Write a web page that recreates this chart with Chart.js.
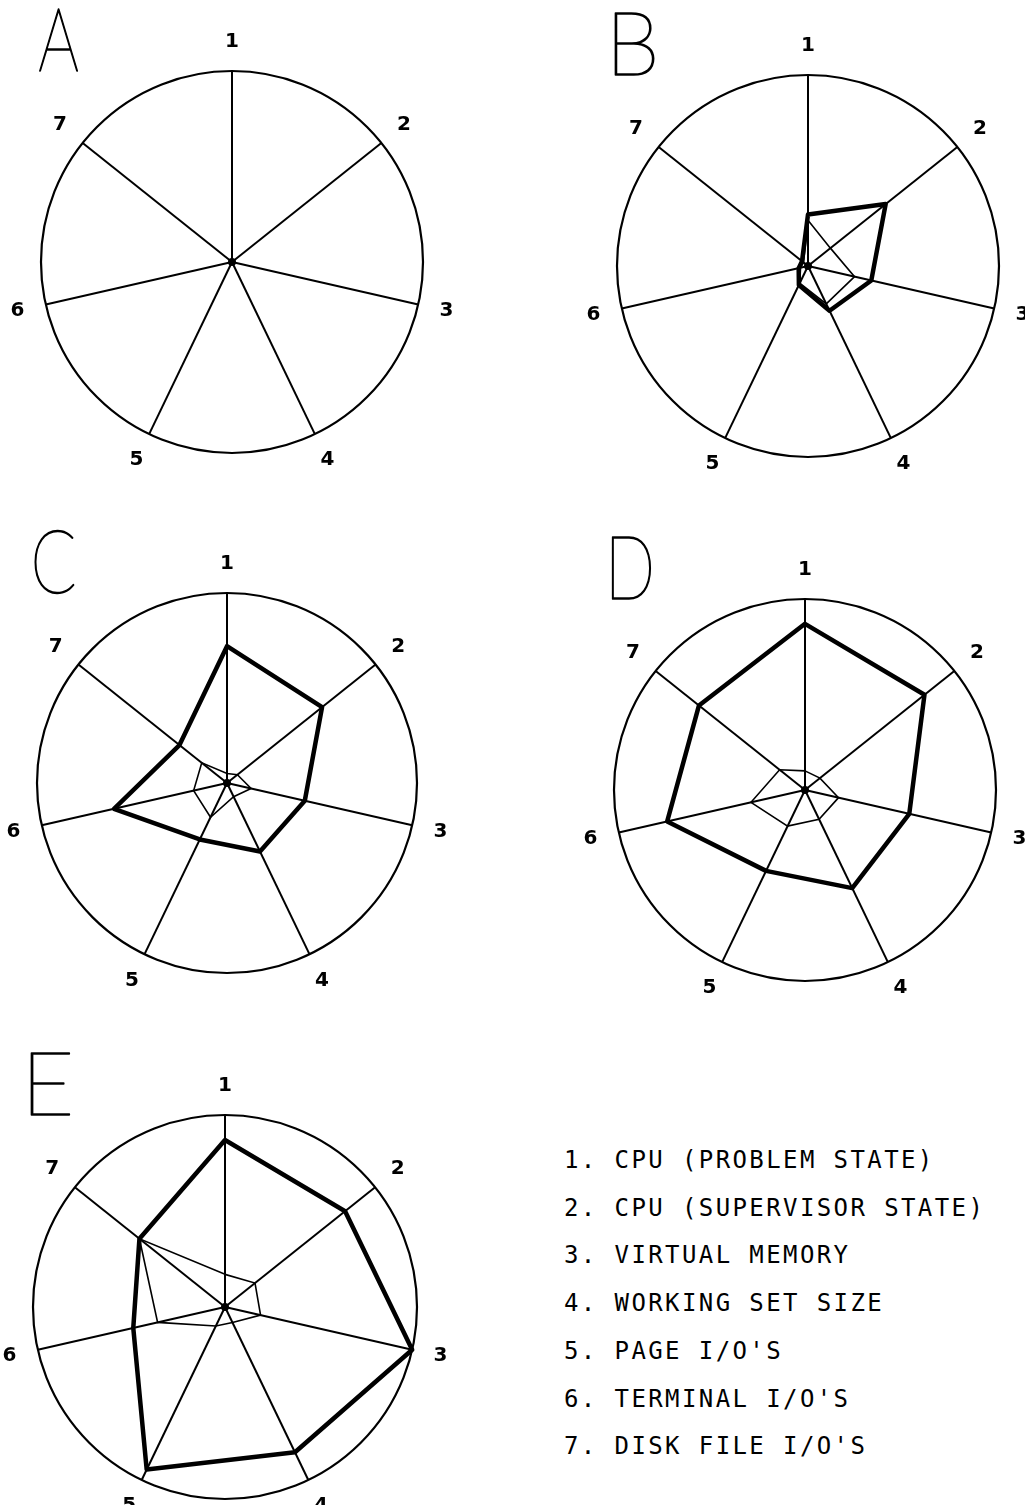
<!DOCTYPE html>
<html>
<head>
<meta charset="utf-8">
<script src="https://cdn.jsdelivr.net/npm/chart.js@4.4.1/dist/chart.umd.min.js"></script>
<style>
  html, body { margin: 0; padding: 0; overflow: hidden; background: #fff; }
  body { position: relative; width: 1025px; height: 1505px; }
  canvas { position: absolute; }
  #keterangan {
    position: absolute; left: 564px; top: 1137px;
    font-family: "DejaVu Sans Mono", monospace; font-size: 24px;
    letter-spacing: 2.4px; line-height: 47.7px; color: #000; white-space: pre;
  }
</style>
</head>
<body>

<div id="keterangan"></div>

<script>
// 1. Data grafik Kiviat (nilai dalam persen dari jari-jari lingkaran)
const labelSumbu = ['1', '2', '3', '4', '5', '6', '7'];
const hurufPanel = ['A', 'B', 'C', 'D', 'E'];

// garis tebal (pemakaian utama) tiap panel
const nilaiTebalA = [0, 0, 0, 0, 0, 0, 0];
const nilaiTebalB = [27, 52, 34, 26, 11, 5, 4];
const nilaiTebalC = [72, 64, 42, 40, 33, 61, 32];
const nilaiTebalD = [87, 80, 56, 57, 47, 74, 71];
const nilaiTebalE = [87, 80, 100, 84, 94, 49, 57];

// garis tipis tiap panel
const nilaiTipisA = [0, 0, 0, 0, 0, 0, 0];
const nilaiTipisB = [24, 15, 25, 22, 10, 4, 3];
const nilaiTipisC = [5, 7, 13, 8, 20, 18, 17];
const nilaiTipisD = [10, 10, 18, 17, 21, 29, 17];
const nilaiTipisE = [17, 20, 19, 9, 11, 36, 57];

const teksKeterangan = [
    '1. CPU (PROBLEM STATE)',
    '2. CPU (SUPERVISOR STATE)',
    '3. VIRTUAL MEMORY',
    '4. WORKING SET SIZE',
    '5. PAGE I/O\'S',
    '6. TERMINAL I/O\'S',
    '7. DISK FILE I/O\'S'
];

// 2. Letak pusat dan jari-jari tiap lingkaran di halaman
const tataLetak = [
    { x: 232, y: 262, r: 191 },
    { x: 808, y: 266, r: 191 },
    { x: 227, y: 783, r: 190 },
    { x: 805, y: 790, r: 191 },
    { x: 225, y: 1307, r: 192 }
];
const LEBAR = 480, TINGGI = 540, PUSAT_X = 240, PUSAT_Y = 300;

// 3. Plugin: nomor sumbu, titik pusat, dan huruf besar di pojok
const hiasanPanel = {
    id: 'hiasanPanel',
    afterDraw(chart, args, opsi) {
        const skala = chart.scales.r;
        const ctx = chart.ctx;
        ctx.save();
        ctx.fillStyle = '#000';
        ctx.strokeStyle = '#000';

        // nomor sumbu di luar lingkaran
        ctx.font = 'bold 20px "DejaVu Sans"';
        ctx.textAlign = 'center';
        ctx.textBaseline = 'middle';
        chart.data.labels.forEach(function(teks, i) {
            const p = skala.getPointPosition(i, skala.drawingArea + 29);
            ctx.fillText(teks, p.x, p.y);
        });

        // titik pusat
        ctx.beginPath();
        ctx.arc(skala.xCenter, skala.yCenter, 4, 0, Math.PI * 2);
        ctx.fill();

        // huruf panel (garis tipis), diskalakan ke kotak 39 x 62
        ctx.font = '100 90px Lato';
        ctx.textAlign = 'left';
        ctx.textBaseline = 'alphabetic';
        const ukuran = ctx.measureText(opsi.huruf);
        const lebarGlyph = ukuran.actualBoundingBoxLeft + ukuran.actualBoundingBoxRight;
        const sx = 39 / lebarGlyph;
        const sy = 62 / ukuran.actualBoundingBoxAscent;
        const kiri = skala.xCenter - skala.drawingArea - 2;
        const bawah = skala.yCenter - skala.drawingArea;
        ctx.translate(kiri + ukuran.actualBoundingBoxLeft * sx, bawah);
        ctx.scale(sx, sy);
        ctx.lineWidth = 1.6;
        ctx.lineJoin = 'round';
        ctx.fillText(opsi.huruf, 0, 0);
        ctx.strokeText(opsi.huruf, 0, 0);
        ctx.restore();
    }
};

function buatPanel(indeks, nilaiTebal, nilaiTipis) {
    const letak = tataLetak[indeks];
    const kanvas = document.createElement('canvas');
    kanvas.width = LEBAR;
    kanvas.height = TINGGI;
    kanvas.style.left = (letak.x - PUSAT_X) + 'px';
    kanvas.style.top = (letak.y - PUSAT_Y) + 'px';
    document.body.appendChild(kanvas);

    return new Chart(kanvas.getContext('2d'), {
        type: 'radar',
        data: {
            labels: labelSumbu,
            datasets: [
                {
                    data: nilaiTebal,
                    borderColor: '#000',
                    borderWidth: 4.5,
                    borderJoinStyle: 'round',
                    fill: false,
                    pointRadius: 0
                },
                {
                    data: nilaiTipis,
                    borderColor: '#000',
                    borderWidth: 1.6,
                    fill: false,
                    pointRadius: 0
                }
            ]
        },
        options: {
            responsive: false,
            animation: false,
            layout: {
                padding: {
                    left: PUSAT_X - letak.r,
                    right: LEBAR - PUSAT_X - letak.r,
                    top: PUSAT_Y - letak.r,
                    bottom: TINGGI - PUSAT_Y - letak.r
                }
            },
            plugins: {
                legend: { display: false },
                tooltip: { enabled: false },
                hiasanPanel: { huruf: hurufPanel[indeks] }
            },
            scales: {
                r: {
                    min: 0,
                    max: 100,
                    ticks: { display: false, stepSize: 100 },
                    grid: { color: '#000', lineWidth: 2.2, circular: true },
                    angleLines: { color: '#000', lineWidth: 2 },
                    pointLabels: { display: false }
                }
            }
        },
        plugins: [hiasanPanel]
    });
}

// 4. Gambar semua panel dan isi keterangan
window.onload = function() {
    buatPanel(0, nilaiTebalA, nilaiTipisA);
    buatPanel(1, nilaiTebalB, nilaiTipisB);
    buatPanel(2, nilaiTebalC, nilaiTipisC);
    buatPanel(3, nilaiTebalD, nilaiTipisD);
    buatPanel(4, nilaiTebalE, nilaiTipisE);

    document.getElementById('keterangan').textContent = teksKeterangan.join('\n');
};
</script>
</body>
</html>
